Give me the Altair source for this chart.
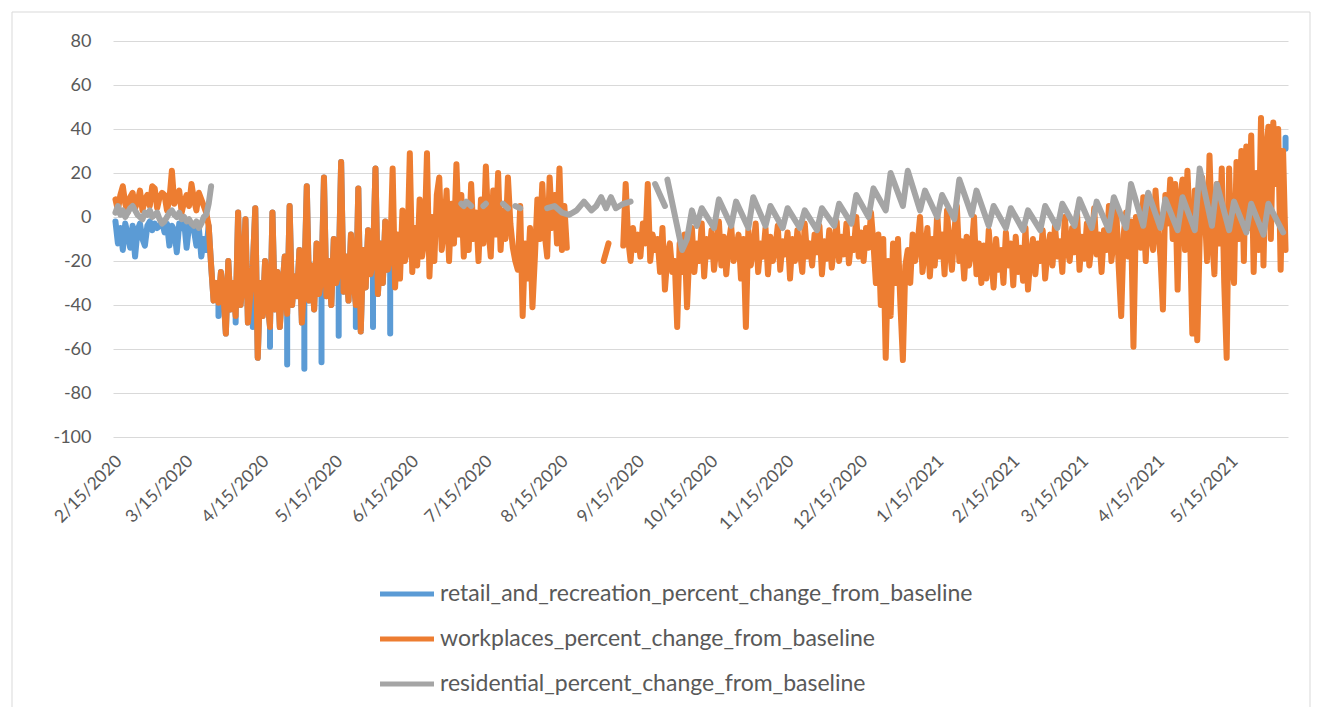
import altair as alt
import pandas as pd

SERIES = ["retail_and_recreation_percent_change_from_baseline",
          "workplaces_percent_change_from_baseline",
          "residential_percent_change_from_baseline"]
COLORS = ["#5B9BD5", "#ED7D31", "#A5A5A5"]

START = pd.Timestamp("2020-02-15")

# ---- retail and recreation ----
# days 0-37 (from 2/15/2020)
retail_early = [
    -2, -12, -5, -15, -3, -8, -14, -4, -18, -6, -3, -10, -13, -4, -2, -6, -3, -5, -4, -2,
    -7, -3, -13, -4, -6, -16, -3, -5, -2, -14, -4, -3, -6, -13, -5, -18, -10, -15,
]
# days 38-112: values lying under the workplaces band
retail_spring = [
    -4, -22, -38, -30, -39, -25, -35, -53, -20, -42, -30, -45,
    2, -40, -28, -1, -48, -35, -22,
    4, -64, -30, -45, -20, -38, -50,
    2, -42, -25, -50, -33, -18, -44,
    5, -40, -27, -36, -15, -48, -30,
    14, -38, -22, -42, -12, -35, -28,
    18, -36, -20, -40, -10, -30, -25,
    25, -34, -18, -38, -8, -28, -40,
    13, -52, -15, -32, -6, -26, -20,
    22, -35, -12, -30, -2, -24, -18,
]
# weekly low readings (vertical drops) in spring 2020
retail_drop_days = [42, 49, 56, 63, 70, 77, 84, 91, 98, 105, 112]
retail_drop_vals = [-45, -48, -50, -59, -67, -69, -66, -54, -50, -50, -53]
# final readings at the end of the period
retail_tail_days = [477, 477]
retail_tail_vals = [31, 36]

# ---- workplaces (daily from 2/15/2020; None = no value) ----
work_feb_mar = [8, 3, 10, 14, 6, 2, 9, 11, 4, 7, 12, 3, 8, 10, 5, 14, 13, 4, 9, 11,
                10, 3, 8, 21, 6, 9, 12, 2, 7, 10, 5, 15, 8, 3, 11, 8, 5, 2]
work_drop = [-4, -22, -38, -30, -39, -25, -35, -53, -20, -42, -30, -45]
work_apr_jun = [
    2, -40, -28, -1, -48, -35, -22,
    4, -64, -30, -45, -20, -38, -50,
    2, -42, -25, -50, -33, -18, -44,
    5, -40, -27, -36, -15, -48, -30,
    14, -38, -22, -42, -12, -35, -28,
    18, -36, -20, -40, -10, -30, -25,
    25, -34, -18, -38, -8, -28, -40,
    13, -52, -15, -32, -6, -26, -20,
    22, -35, -12, -30, -2, -24, -18,
    22, -32, -8, -28, 3, -20, -15,
    29, -25, -5, -22, 8, -18, -10,
    29, -27, 0, -20, 10, 18, -15,
]
work_jun_aug = [
    -5, 12, -20, 6, -12, 24, -8,
    10, -18, 5, -15, 15, -10, 2,
    -20, 8, -12, 23, -5, -18, 12,
    -8, 20, -15, 3, -10, 18, -3,
    -14, -20, -24, 5, -45, -12, -28,
    -5, -41, -18, 8, -10, 15, -8,
    -18, 18, -5, 10, -12, 22, -15, 5, -14,
]
work_gap1 = [None] * 14
work_short = [-20, -16, -12]
work_gap2 = [None] * 5
work_sep = [
    -13, 15, -10, -20, -5, -15, -8,
    -18, -3, -12, 15, -20, -8, -15,
    -10, -25, -5, -33, -18, -12, -25,
    -20, -50, -12, -25, -8, -41, -15,
]
work_oct_jan = [
    -5, -25, -12, -20, -3, -27, -10,
    -18, -6, -24, -14, -2, -22, -9,
    -26, -12, -4, -20, -15, -8, -28,
    -10, -50, -6, -22, -14, -3, -25,
    -12, -18, -5, -26, -9, -20, -14,
    -4, -24, -11, -17, -7, -28, -10,
    -20, -6, -15, -25, -3, -18, -12,
    -22, -8, -16, -4, -26, -11, -19,
    -6, -23, -13, -2, -20, -9, -17,
    -3, -21, -10, -15, 0, -18, -7,
    -20, -5, -14, 2, -12, -30, -8,
    -40, -10, -64, -20, -45, -12, -30,
    -10, -40, -65, -22, -15, -30, -8,
    -20, -12, 0, -25, -15, -5, -27,
    -10, -22, 2, -18, -8, -26, 3,
    -14, -24, -6, 5, -20, -11, -28,
    -9, -22, -15, 0, -26, -12, -30,
]
work_feb_mar21 = [
    -13, -28, -6, -20, -32, -10, -24,
    -15, -30, -7, -22, -12, -31, -9,
    -25, -14, -29, -5, -33, -18, -10,
    -26, -12, -20, -6, -28, -15, -8,
    -22, -4, -18, -11, -25, 0, -14,
    -20, -5, -16, 2, -24, -9, -19,
    -3, -22, -12, 4, -17, -8, -25,
    -6, -15, 5, -20, -10, 3, -23,
]
work_apr_jun21 = [
    -45, -8, 2, -18, -2, -59, 0,
    -5, -14, 9, -20, 6, -8, -15,
    12, -5, -18, -42, 10, -3, 17,
    -10, 15, -33, 8, 17, -15, 21,
    -5, -53, 12, -56, -10, 18, 5,
    -20, 28, -8, -26, 15, -12, 22,
    -30, -64, 22, -18, -30, 25, -10,
    30, -20, 32, -5, 37, -25, 20,
    -15, 45, -22, 30, 41, -10, 43,
    15, 40, -24, 30, -15,
]

# ---- residential (None = break in the line) ----
res_early = [2, 5, 1, 3, 0, 2, 4, 5, 3, 1, 0, -1, 2, 1, 3, 0, 1, 2, -1, -3,
             -2, 0, 2, 3, 1, 0, 2, -1, 0, -2, -1, -3, -4, -2, -5, -3, 0, 1, 6, 14]
res_days = [141, 142, 143, 144, 145, 148, 150, 151, 156, 158, 160, 161, 163, 165, 166,
            176, 179, 182, 185, 188, 191, 194, 196, 198, 200, 202, 204, 207, 210, 211,
            220, 224, 224.5, 225, 231, 233, 235, 237,
            239, 244, 246, 251, 253, 258, 260, 265, 267, 272, 274, 279, 281, 286,
            288, 293, 295, 300, 302, 307, 309, 314, 316, 321, 323, 328, 330, 335,
            337, 342, 344, 349, 351, 356, 358, 363, 365, 370, 372, 377, 379, 384,
            386, 391, 393, 398, 400, 405, 407, 412, 414, 419, 421, 426, 428, 433,
            435, 440, 442, 447, 449, 454, 456, 461, 463, 468, 470, 476]
res_vals = [6, 5, 7, 6, 5, None, 5, 6, None, 6, 4, None, 5, 4, None,
            4, 5, 2, 1, 3, 7, 3, 5, 9, 4, 9, 4, 6, 7, None,
            15, 5, None, 17, -15, -10, 3, -4,
            4, -5, 8, -4, 7, -5, 9, -4, 5, -5, 4, -5, 3, -6,
            4, -4, 6, -3, 10, 0, 13, 3, 20, 5, 21, 3, 12, 0,
            10, -1, 17, 1, 12, -4, 5, -5, 4, -6, 3, -6, 5, -5,
            6, -4, 8, -5, 7, -6, 9, -5, 15, -4, 11, -5, 8, -6,
            9, -6, 22, -4, 15, -6, 7, -7, 6, -8, 6, -7]

work_daily = (work_feb_mar + work_drop + work_apr_jun + work_jun_aug + work_gap1 +
              work_short + work_gap2 + work_sep + work_oct_jan + work_feb_mar21 +
              work_apr_jun21)


def day_str(d):
    return (START + pd.Timedelta(days=d)).strftime("%Y-%m-%dT%H:%M:%S")


rows = []


def add(series, d, v):
    rows.append({"date": day_str(d), "value": v, "series": series, "idx": len(rows)})


for i, v in enumerate(retail_early):
    add(SERIES[0], i, v)
drops = dict(zip(retail_drop_days, retail_drop_vals))
for j, v in enumerate(retail_spring):
    d = len(retail_early) + j
    add(SERIES[0], d, v)
    if d in drops:
        add(SERIES[0], d, drops[d])
        add(SERIES[0], d, v)
add(SERIES[0], len(retail_early) + len(retail_spring), None)
for d, v in zip(retail_tail_days, retail_tail_vals):
    add(SERIES[0], d, v)

for i, v in enumerate(work_daily):
    add(SERIES[1], i, v)

for i, v in enumerate(res_early):
    add(SERIES[2], i, v)
add(SERIES[2], len(res_early), None)
for d, v in zip(res_days, res_vals):
    add(SERIES[2], d, v)

df = pd.DataFrame(rows)

tick_dates = []
for y, m in [(2020, mm) for mm in range(2, 13)] + [(2021, mm) for mm in range(1, 6)]:
    tick_dates.append(alt.DateTime(year=y, month=m, date=15))

FONT = "Lato"
TXT = "#595959"

x_enc = alt.X(
    "date:T",
    scale=alt.Scale(domain=[alt.DateTime(year=2020, month=2, date=14),
                            alt.DateTime(year=2021, month=6, date=7)]),
    axis=alt.Axis(values=tick_dates, format="%-m/%-d/%Y", labelAngle=-45,
                  grid=False, domain=False, ticks=False, labelPadding=15,
                  labelOffset=-3,
                  labelFontSize=17.5, labelColor=TXT, labelFont=FONT,
                  labelOverlap=False, labelFlush=False, title=None),
)
y_enc = alt.Y(
    "value:Q",
    scale=alt.Scale(domain=[-100, 80], nice=False, zero=False),
    axis=alt.Axis(values=list(range(-100, 81, 20)), grid=True, gridColor="#d9d9d9",
                  gridWidth=1, domain=False, ticks=False, tickSize=0, labelPadding=22,
                  labelExpr="datum.value < 0 ? '-' + abs(datum.value) : '' + datum.value",
                  labelFontSize=18, labelColor=TXT, labelFont=FONT,
                  labelFlush=False, title=None),
)
c_enc = alt.Color(
    "series:N",
    scale=alt.Scale(domain=SERIES, range=COLORS),
    legend=alt.Legend(orient="none", legendX=269, legendY=528, title=None,
                      symbolType="M-1.2,0L1.2,0", symbolSize=2025, symbolStrokeWidth=5,
                      labelFontSize=23, labelFont=FONT, labelColor=TXT,
                      labelOffset=8, rowPadding=8, padding=0, labelLimit=900,
                      direction="vertical"),
)

base = alt.Chart(df).encode(x=x_enc, y=y_enc, color=c_enc, order=alt.Order("idx:Q"))
line_kw = dict(strokeWidth=6, strokeCap="round", strokeJoin="round")

layers = []
for s in SERIES:
    layers.append(base.transform_filter(alt.datum.series == s).mark_line(**line_kw))

border = alt.Chart(pd.DataFrame({"k": [0]})).mark_rect(
    filled=False, stroke="#d9d9d9", strokeWidth=1
).encode(x=alt.value(-101), x2=alt.value(1197), y=alt.value(-29), y2=alt.value(690))

chart = alt.layer(border, *layers).properties(
    width=1175, height=396,
    autosize=alt.AutoSizeParams(type="none"),
    padding={"left": 105, "top": 33, "right": 25, "bottom": 270},
).configure_view(strokeWidth=0)

chart.save("out.html", embed_options={"renderer": "svg", "actions": False})
